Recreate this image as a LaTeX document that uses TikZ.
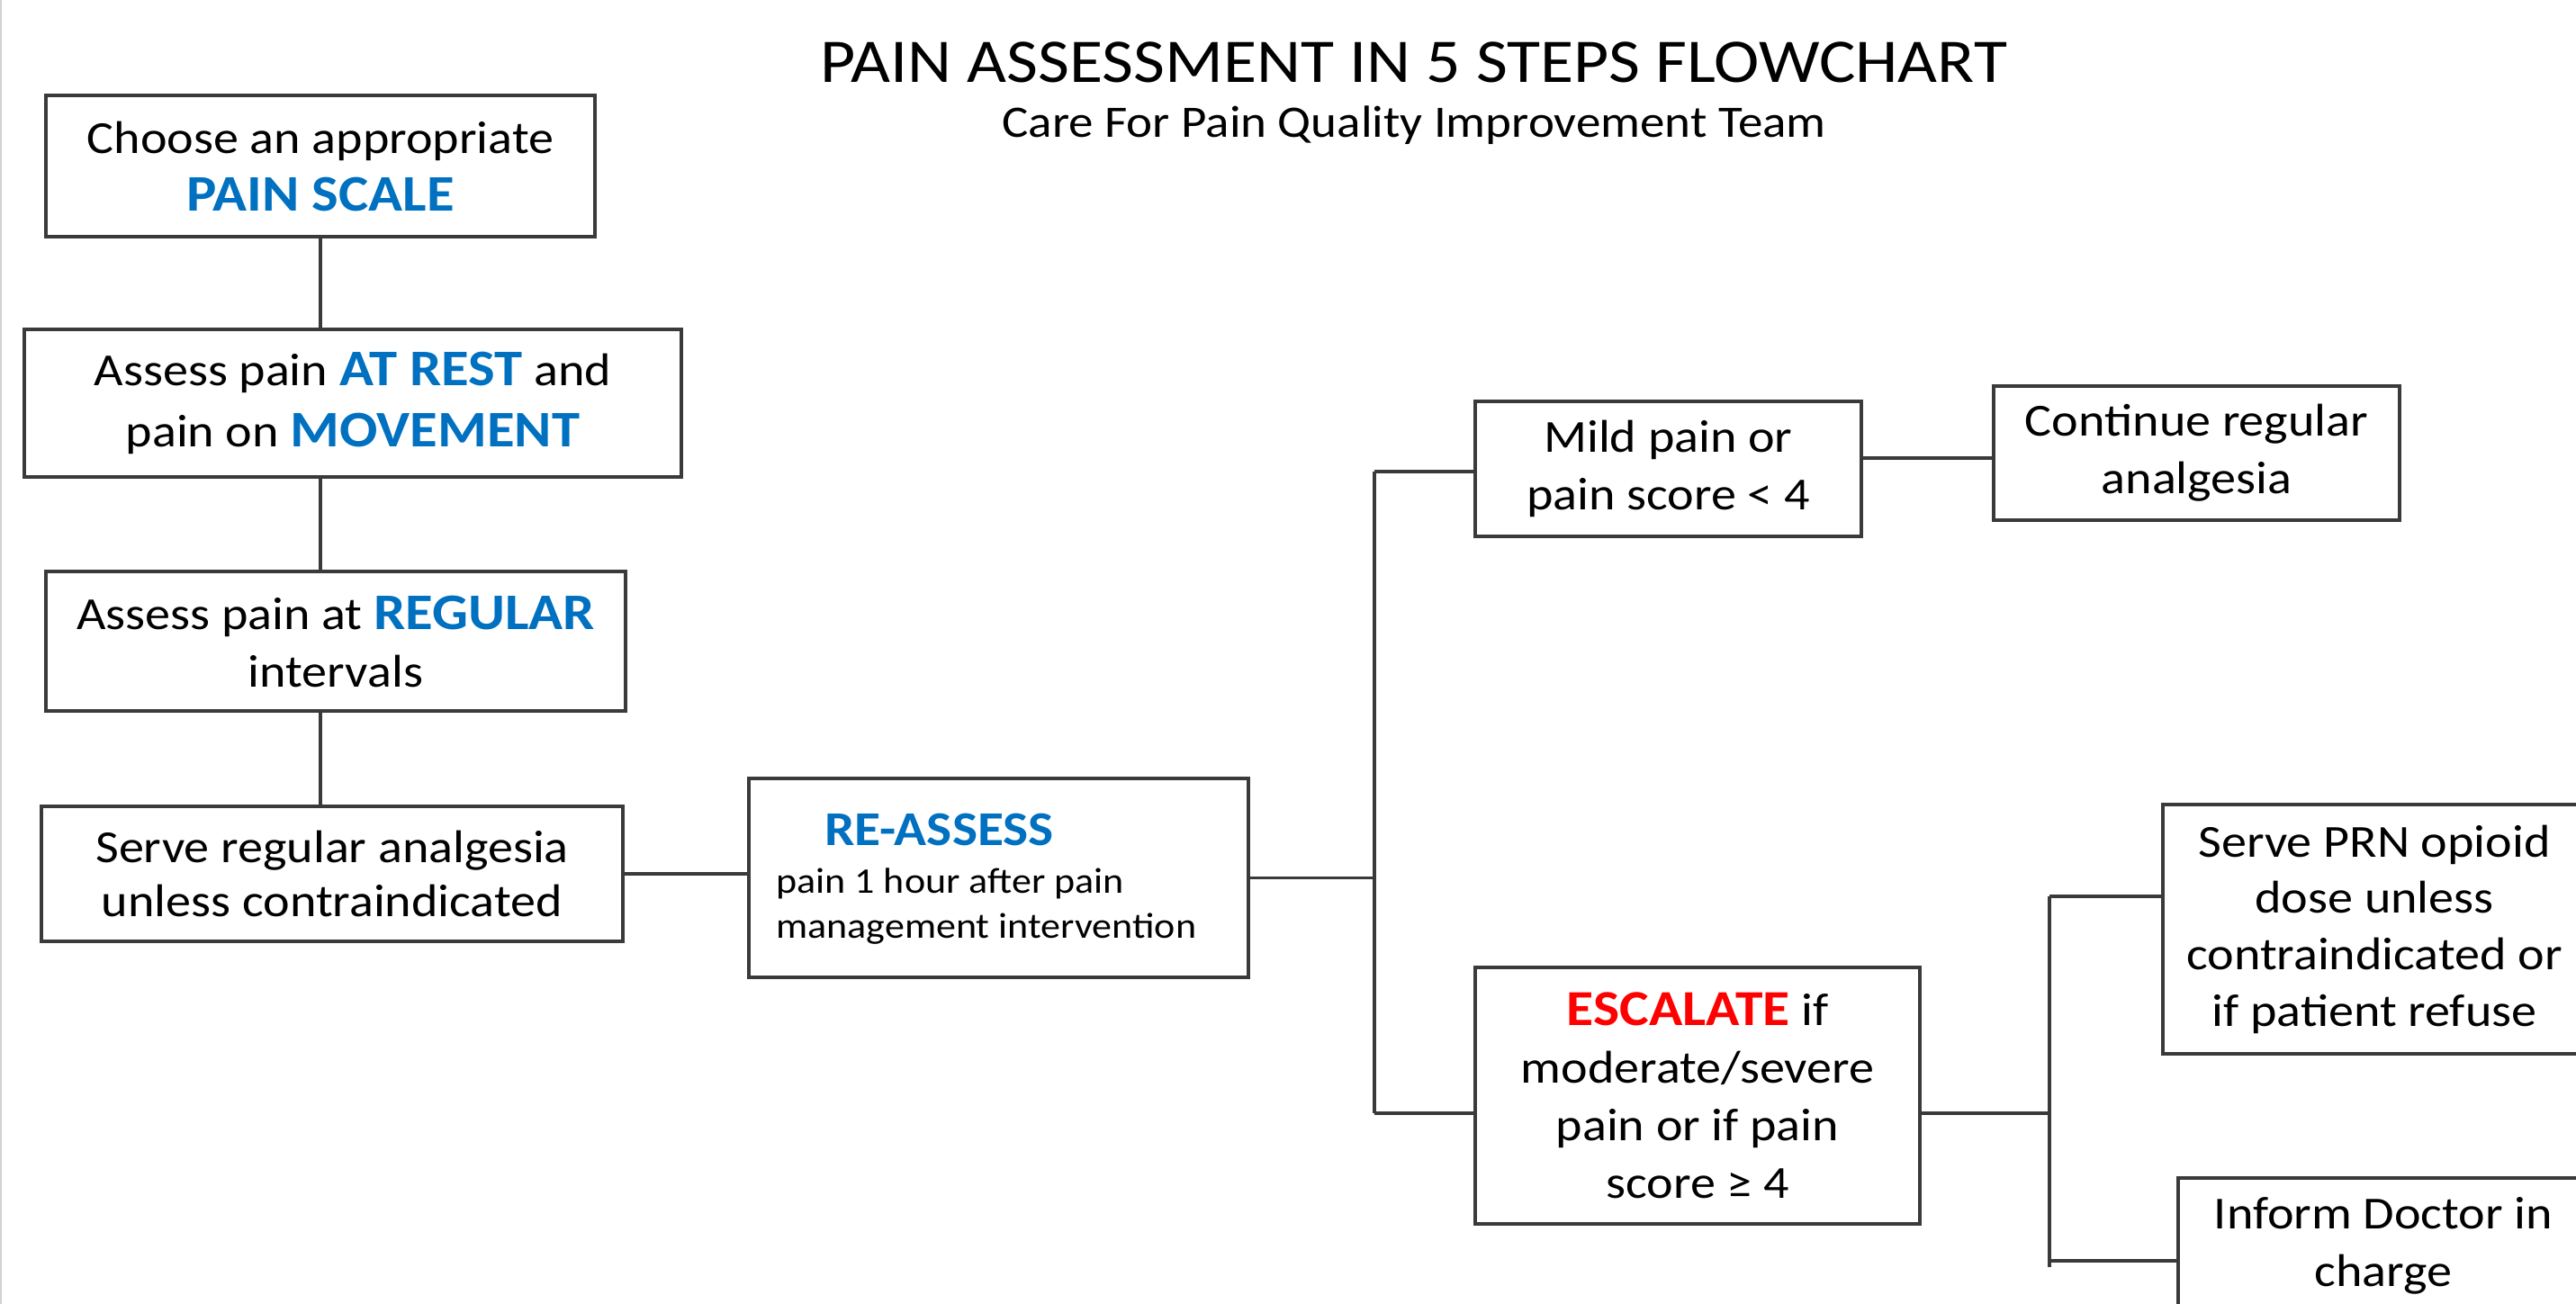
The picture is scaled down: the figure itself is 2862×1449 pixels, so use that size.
\documentclass[tikz,border=0pt]{standalone}
\usepackage{fontspec}
\setmainfont{Carlito}[FakeStretch=1.1]
\usetikzlibrary{calc}
\definecolor{hblue}{HTML}{0070C0}
\definecolor{hred}{HTML}{FF0000}
\definecolor{lineg}{HTML}{3A3A3A}
\newcommand{\hiblue}[1]{{\fontsize{28.5}{32}\selectfont\bfseries\color{hblue}#1}}
\newcommand{\hired}[1]{{\fontsize{28}{32}\selectfont\bfseries\color{hred}#1}}
\begin{document}
\begin{tikzpicture}[x=0.5pt,y=-0.5pt,
  box/.style={draw=lineg, line width=1.8pt, rectangle, inner sep=0pt, align=center,
    font=\fontsize{25.5}{32}\selectfont, text=black},
  conn/.style={draw=lineg, line width=1.6pt},
  lbl/.style={inner sep=0pt, text=black}]
\useasboundingbox (0,0) rectangle (2862,1449);
\fill[white] (0,0) rectangle (2862,1449);
\draw[gray!35, line width=1pt] (1,0) -- (1,1449);

% title
\node[lbl, anchor=base, font=\fontsize{34.5}{40}\selectfont] (title) at (1571,92) {PAIN ASSESSMENT IN 5 STEPS FLOWCHART};
\node[lbl, anchor=base, font=\fontsize{25}{30}\selectfont] (subtitle) at (1571,153) {Care For Pain Quality Improvement Team};

% left column
\node[box, minimum width=305pt, minimum height=78.5pt] (b1) at (356,184.5) {Choose an appropriate\\ \hiblue{PAIN SCALE}};
\node[box, minimum width=365pt, minimum height=82pt] (b2) at (392,448) {Assess pain \hiblue{AT REST} and\\[2pt] pain on \hiblue{MOVEMENT}};
\node[box, minimum width=322pt, minimum height=77.5pt] (b3) at (373,712.5) {Assess pain at \hiblue{REGULAR}\\ intervals};
\node[box, minimum width=323pt, minimum height=75pt, font=\fontsize{25.5}{30}\selectfont] (b4) at (369,971) {Serve regular analgesia\\ unless contraindicated};

% re-assess
\node[box, minimum width=277.5pt, minimum height=110.5pt] (b5) at (1109.5,975.5) {};
\node[lbl, anchor=base west, font=\fontsize{27}{32}\selectfont\bfseries, text=hblue] (re) at (916,939) {RE-ASSESS};
\node[lbl, anchor=base west, font=\fontsize{20}{24}\selectfont] (re1) at (862,992) {pain 1 hour after pain};
\node[lbl, anchor=base west, font=\fontsize{20}{24}\selectfont] (re2) at (862,1042) {management intervention};

% right part
\node[box, minimum width=214.5pt, minimum height=75pt] (mild) at (1853.5,521) {Mild pain or\\ pain score < 4};
\node[box, minimum width=225.5pt, minimum height=74.5pt] (cont) at (2440.5,503.5) {Continue regular\\ analgesia};
\node[box, minimum width=247pt, minimum height=142.5pt] (esc) at (1886,1217.5) {\hired{ESCALATE} if\\ moderate/severe\\ pain or if pain\\ score ≥ 4};
\node[box, minimum width=235pt, minimum height=138.5pt, font=\fontsize{25.5}{31.3}\selectfont] (prn) at (2638,1032.5) {Serve PRN opioid\\ dose unless\\ contraindicated or\\ if patient refuse};
\node[box, minimum width=228pt, minimum height=75.5pt] (inf) at (2648,1384.5) {Inform Doctor in\\ charge};

% connectors left column
\draw[conn] (b1.south) -- (b1.south |- b2.north);
\draw[conn] (b2.south -| b1.south) -- (b3.north -| b1.south);
\draw[conn] (b3.south -| b1.south) -- (b4.north -| b1.south);
\draw[conn] (b4.east) -- (b4.east -| b5.west);

% trunk
\coordinate (ttop) at (1527,524);
\coordinate (tbot) at (1527,1237);
\draw[conn] (b5.east) -- (b5.east -| ttop);
\draw[conn] (ttop) -- (tbot);
\draw[conn] (ttop) -- (ttop -| mild.west);
\draw[conn] (tbot) -- (tbot -| esc.west);
\coordinate (mc) at (2140,509);
\draw[conn] (mc -| mild.east) -- (mc -| cont.west);

% escalate branch
\coordinate (bt) at (2277,996);
\coordinate (bb) at (2277,1408);
\coordinate (bi) at (2277,1401);
\draw[conn] (bt) -- (bb);
\draw[conn] (tbot -| esc.east) -- (tbot -| bt);
\draw[conn] (bt) -- (bt -| prn.west);
\draw[conn] (bi) -- (bi -| inf.west);
\end{tikzpicture}
\end{document}
